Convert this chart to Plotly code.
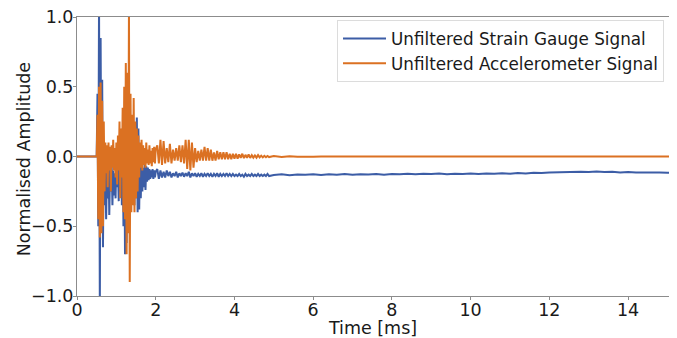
import numpy as np
import plotly.graph_objects as go

# ---------------- data ----------------
# quiet part before the impact
pre_t = [0.0]
pre_v = [0.0]

# impact burst: samples every 0.02 ms starting at 0.50 ms
burst_start, burst_dt = 0.50, 0.02
blue_burst = [0.00, 0.45, -0.50, 1.10, -1.10, 0.85, -0.45, 0.55, -0.65, 0.10,
              -0.35, -0.05, -0.45, -0.10, -0.30, 0.02, -0.42, -0.08, -0.25, -0.05,
              -0.35, -0.10, -0.28, -0.12, -0.30, 0.00, -0.22, -0.05, -0.32, 0.05,
              -0.25, 0.10, -0.35, 0.20, -0.50, 0.25, -0.70, 0.15, -0.62, 0.05,
              -0.40, -0.05, -0.30, 0.00, -0.25, 0.05, -0.30, 0.10, -0.35, 0.15,
              -0.30, 0.28, -0.40, 0.20, -0.38, 0.00, -0.30, -0.05, -0.25, -0.08,
              -0.22, -0.06, -0.24, -0.07, -0.18, -0.08, -0.17, -0.09, -0.16, -0.10,
              -0.15, -0.09, -0.16, -0.10, -0.15, -0.11]
orange_burst = [0.00, 0.30, -0.45, 0.50, -0.58, 0.53, -0.55, 0.40, -0.50, 0.25,
                -0.25, 0.10, -0.12, 0.08, -0.22, 0.10, -0.10, 0.07, -0.25, 0.08,
                -0.08, 0.12, -0.10, 0.06, -0.15, 0.10, -0.20, 0.15, -0.10, 0.25,
                -0.30, 0.20, -0.15, 0.35, -0.40, 0.50, -0.45, 0.67, -0.70, 0.60,
                -0.55, 1.05, -0.90, 0.45, -0.40, 0.30, -0.35, 0.42, -0.40, 0.25,
                -0.30, 0.20, -0.25, 0.15, -0.15, 0.10, -0.08, 0.12, -0.10, 0.08,
                -0.06, 0.06, -0.08, 0.10, -0.05, 0.05, -0.06, 0.08, -0.05, 0.04,
                -0.07, 0.06, -0.04, 0.07, -0.05, 0.05]

# ring-down: samples every 0.04 ms starting at 2.04 ms
decay_start, decay_dt = 2.04, 0.04
blue_decay = [-0.09, -0.16, -0.10, -0.15, -0.11, -0.15, -0.10, -0.14, -0.11, -0.15, -0.12, -0.14,
              -0.11, -0.15, -0.12, -0.14, -0.115, -0.145, -0.12, -0.14, -0.11, -0.15, -0.12, -0.14,
              -0.12, -0.145, -0.125, -0.14, -0.12, -0.145, -0.125, -0.14, -0.12, -0.14, -0.125, -0.145,
              -0.125, -0.14, -0.12, -0.145, -0.125, -0.14, -0.125, -0.14, -0.12, -0.14, -0.125, -0.14,
              -0.125, -0.14, -0.13, -0.14, -0.125, -0.14, -0.13, -0.145, -0.125, -0.14, -0.13, -0.14,
              -0.125, -0.14, -0.13, -0.14, -0.125, -0.14, -0.13, -0.14, -0.13, -0.14, -0.125, -0.14]
orange_decay = [0.08, -0.05, 0.12, -0.06, 0.11, -0.05, 0.06, -0.04, 0.09, -0.05, 0.05, -0.03,
                0.06, -0.03, 0.08, -0.04, 0.08, -0.05, 0.12, -0.09, 0.12, -0.10, 0.10, -0.08,
                0.06, -0.04, 0.04, -0.03, 0.05, -0.03, 0.07, -0.03, 0.06, -0.03, 0.05, -0.03,
                0.03, -0.03, 0.04, -0.02, 0.03, -0.02, 0.03, -0.02, 0.03, -0.02, 0.02, -0.02,
                0.02, -0.015, 0.02, -0.015, 0.015, -0.01, 0.02, -0.012, 0.012, -0.01, 0.015, -0.01,
                0.01, -0.008, 0.008, -0.008, 0.01, -0.006, 0.006, -0.006, 0.005, -0.005, 0.004, -0.004]

# long tail: samples every 0.2 ms starting at 5.0 ms
tail_start, tail_dt = 5.0, 0.2
blue_tail = [-0.132, -0.128, -0.134, -0.129, -0.131, -0.127, -0.133, -0.128, -0.130, -0.126,
             -0.131, -0.127, -0.129, -0.125, -0.130, -0.126,
             -0.128, -0.124, -0.127, -0.123, -0.126, -0.122, -0.127, -0.123, -0.125, -0.121,
             -0.126, -0.122, -0.124, -0.120, -0.123, -0.119, -0.121, -0.117, -0.119, -0.115,
             -0.113, -0.110, -0.112, -0.109, -0.111, -0.108, -0.112, -0.110, -0.114, -0.111,
             -0.115, -0.113, -0.116, -0.114, -0.117, -0.117]
orange_tail = [0.003, -0.003, 0.002, -0.002, 0.001, -0.001, 0.0]
orange_flat_t = [15.2]
orange_flat_v = [0.0]

x_ticks = [0, 2, 4, 6, 8, 10, 12, 14]
y_ticks = [-1.0, -0.5, 0.0, 0.5, 1.0]
y_tick_text = ["\u22121.0", "\u22120.5", "0.0", "0.5", "1.0"]


def times(start, dt, n):
    return [start + dt * i for i in range(n)]


blue_t = (pre_t + times(burst_start, burst_dt, len(blue_burst))
          + times(decay_start, decay_dt, len(blue_decay))
          + times(tail_start, tail_dt, len(blue_tail)))
blue_v = pre_v + blue_burst + blue_decay + blue_tail

orange_t = (pre_t + times(burst_start, burst_dt, len(orange_burst))
            + times(decay_start, decay_dt, len(orange_decay))
            + times(tail_start, tail_dt, len(orange_tail)) + orange_flat_t)
orange_v = pre_v + orange_burst + orange_decay + orange_tail + orange_flat_v

BLUE = "#3C5DA6"
ORANGE = "#DB7122"
FONT = "DejaVu Sans"
TXT = "#1a1a1a"

fig = go.Figure()
fig.add_trace(go.Scatter(x=blue_t, y=blue_v, mode="lines",
                         name="Unfiltered Strain Gauge Signal",
                         line=dict(color=BLUE, width=2.0)))
fig.add_trace(go.Scatter(x=orange_t, y=orange_v, mode="lines",
                         name="Unfiltered Accelerometer Signal",
                         line=dict(color=ORANGE, width=2.0)))

axis_common = dict(showgrid=False, zeroline=False, showline=True, mirror=True,
                   linecolor="#8c8c8c", linewidth=1, ticks="outside", ticklen=3,
                   tickcolor="#8c8c8c", automargin=False, ticklabeloverflow="allow",
                   tickfont=dict(family=FONT, size=17.5, color=TXT))

fig.update_xaxes(range=[0, 15.04], tickvals=x_ticks, ticklabelstandoff=-5,
                 title=dict(text="Time [ms]", font=dict(family=FONT, size=17.5, color=TXT),
                            standoff=6),
                 **axis_common)
fig.update_yaxes(range=[-1.0, 1.0], tickvals=y_ticks, ticktext=y_tick_text,
                 ticklabelstandoff=-4, **axis_common)

fig.add_annotation(text="Normalised Amplitude", xref="paper", yref="paper",
                   x=-0.0895, y=0.49, xanchor="center", yanchor="middle",
                   textangle=-90, showarrow=False,
                   font=dict(family=FONT, size=17.5, color=TXT))

# the page body adds an 8px margin, so the figure is sized to fit inside it
fig.update_layout(
    width=669, height=330,
    margin=dict(l=69, r=8, t=9, b=42),
    paper_bgcolor="white", plot_bgcolor="white",
    font=dict(family=FONT, color=TXT),
    legend=dict(x=0.4392, y=0.989, xanchor="left", yanchor="top",
                bgcolor="rgba(255,255,255,0.8)", bordercolor="#dcdcdc", borderwidth=1,
                font=dict(family=FONT, size=16.8, color=TXT),
                itemwidth=43),
    showlegend=True,
)

fig.write_html("out.html")
